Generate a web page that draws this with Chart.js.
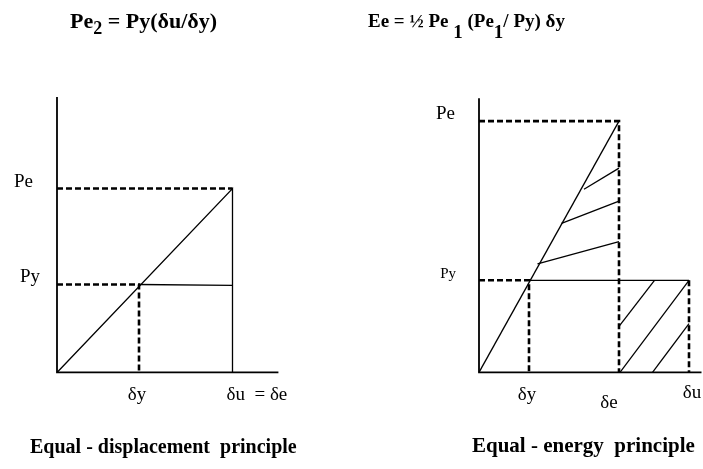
<!DOCTYPE html>
<html>
<head>
<meta charset="utf-8">
<script src="https://cdn.jsdelivr.net/npm/chart.js@4.4.1/dist/chart.umd.min.js"></script>
<style>
  body { margin: 0; background: #fff; }
  #wrap { position: relative; width: 703px; height: 469px; font-family: 'Liberation Serif', 'Times New Roman', serif; color: #000; }
  .pane { position: absolute; top: 0; height: 469px; }
  #leftPane { left: 0; width: 351px; }
  #rightPane { left: 351px; width: 352px; }
  .cap { position: absolute; font-weight: bold; white-space: nowrap; line-height: 1; }
  .cap .sub { position: relative; }
</style>
</head>
<body>
<div id="wrap">
  <div class="pane" id="leftPane"><canvas id="leftChart" width="351" height="469"></canvas></div>
  <div class="pane" id="rightPane"><canvas id="rightChart" width="352" height="469"></canvas></div>

  <div class="cap" style="left:70px; top:10px; font-size:22px;">Pe<span class="sub" style="top:6px; font-size:18px;">2</span> = Py(δu/δy)</div>
  <div class="cap" style="left:368px; top:11px; font-size:19px;">Ee = ½ Pe<span class="sub" style="top:11px;">&nbsp;1</span> (Pe<span class="sub" style="top:11px;">1</span>/ Py) δy</div>

  <div class="cap" style="left:30px; top:436px; font-size:20px;">Equal - displacement&nbsp; principle</div>
  <div class="cap" style="left:472px; top:435px; font-size:21px;">Equal - energy&nbsp; principle</div>
</div>

<script>
// left diagram: equal-displacement (units: δy = 1, Py = 1)
const leftXTicks = ['δy', 'δu  = δe'];
const leftXVals = [1, 2.14];
const leftYTicks = ['Pe', 'Py'];
const leftYVals = [2.09, 1];
const leftAxisEnd = [2.7, 3.13];
const leftYieldEndY = 0.99;

// right diagram: equal-energy (units: δy = 1, Py = 1)
const rightXTicks = ['δy', 'δe', 'δu'];
const rightXVals = [1, 2.8, 4.2];
const rightYTicks = ['Pe', 'Py'];
const rightYVals = [2.73, 1];
const rightAxisEnd = [4.45, 2.98];
// hatching segments [x1, y1, x2, y2]
const upperHatch = [[2.10, 1.99, 2.8, 2.22], [1.65, 1.62, 2.8, 1.86], [1.17, 1.18, 2.8, 1.42]];
const lowerHatch = [[2.8, 0.5, 3.51, 1], [2.82, 0, 4.2, 1], [3.47, 0, 4.2, 0.53]];

const solid = (pts, w) => ({ data: pts, borderColor: '#000', borderWidth: w || 1.3, showLine: true, pointRadius: 0, fill: false, clip: false });
const dashed = (pts) => ({ data: pts, borderColor: '#000', borderWidth: 2.6, borderDash: [6, 3], showLine: true, pointRadius: 0, fill: false, clip: false });
const seg = (s) => solid([{ x: s[0], y: s[1] }, { x: s[2], y: s[3] }]);

// draws tick-style text next to the axes
const labelPlugin = {
  id: 'diagramLabels',
  afterDatasetsDraw(chart, args, opts) {
    const { ctx, scales } = chart;
    ctx.save();
    ctx.fillStyle = '#000';
    ctx.textBaseline = 'middle';
    opts.items.forEach(it => {
      ctx.font = (it.size || 19) + 'px "Liberation Serif", serif';
      ctx.textAlign = it.align || 'center';
      const px = scales.x.getPixelForValue(it.x) + (it.dx || 0);
      const py = scales.y.getPixelForValue(it.y) + (it.dy || 0);
      ctx.fillText(it.text, px, py);
    });
    ctx.restore();
  }
};

function baseOptions(xr, yr, items) {
  return {
    responsive: false,
    animation: false,
    layout: { padding: 0 },
    plugins: { legend: { display: false }, tooltip: { enabled: false }, diagramLabels: { items } },
    scales: {
      x: { type: 'linear', display: false, min: xr[0], max: xr[1] },
      y: { type: 'linear', display: false, min: yr[0], max: yr[1] }
    }
  };
}

// ---- left chart
const [ldy, ldu] = leftXVals;
const [lpe, lpy] = leftYVals;
new Chart(document.getElementById('leftChart'), {
  type: 'scatter',
  data: {
    datasets: [
      solid([{ x: 0, y: leftAxisEnd[1] }, { x: 0, y: 0 }, { x: leftAxisEnd[0], y: 0 }], 1.8),
      solid([{ x: 0, y: 0 }, { x: ldu, y: lpe }, { x: ldu, y: 0 }]),
      solid([{ x: ldy, y: lpy }, { x: ldu, y: leftYieldEndY }]),
      dashed([{ x: 0, y: lpe }, { x: ldu, y: lpe }]),
      dashed([{ x: 0, y: lpy }, { x: ldy, y: lpy }, { x: ldy, y: 0 }])
    ]
  },
  options: baseOptions([-0.695, 3.585], [-1.097, 4.233], [
    { text: leftYTicks[0], x: 0, y: lpe, dx: -24, dy: -7, align: 'right' },
    { text: leftYTicks[1], x: 0, y: lpy, dx: -17, dy: -7, align: 'right' },
    { text: leftXTicks[0], x: ldy, y: 0, dx: -2, dy: 23 },
    { text: leftXTicks[1], x: ldu, y: 0, dx: -6, dy: 23, align: 'left' }
  ]),
  plugins: [labelPlugin]
});

// ---- right chart
const [rdy, rde, rdu] = rightXVals;
const [rpe, rpy] = rightYVals;
new Chart(document.getElementById('rightChart'), {
  type: 'scatter',
  data: {
    datasets: [
      solid([{ x: 0, y: rightAxisEnd[1] }, { x: 0, y: 0 }, { x: rightAxisEnd[0], y: 0 }], 1.8),
      solid([{ x: 0, y: 0 }, { x: rde, y: rpe }]),
      solid([{ x: rdy, y: rpy }, { x: rdu, y: rpy }]),
      dashed([{ x: 0, y: rpe }, { x: rde, y: rpe }, { x: rde, y: 0 }]),
      dashed([{ x: 0, y: rpy }, { x: rdy, y: rpy }, { x: rdy, y: 0 }]),
      dashed([{ x: rdu, y: rpy }, { x: rdu, y: 0 }]),
      ...upperHatch.map(seg),
      ...lowerHatch.map(seg)
    ]
  },
  options: baseOptions([-2.56, 4.48], [-1.051, 4.047], [
    { text: rightYTicks[0], x: 0, y: rpe, dx: -24, dy: -7, align: 'right' },
    { text: rightYTicks[1], x: 0, y: rpy, dx: -23, dy: -6, align: 'right', size: 15 },
    { text: rightXTicks[0], x: rdy, y: 0, dx: -2, dy: 23 },
    { text: rightXTicks[1], x: rde, y: 0, dx: -10, dy: 31 },
    { text: rightXTicks[2], x: rdu, y: 0, dx: 3, dy: 21 }
  ]),
  plugins: [labelPlugin]
});
</script>
</body>
</html>
